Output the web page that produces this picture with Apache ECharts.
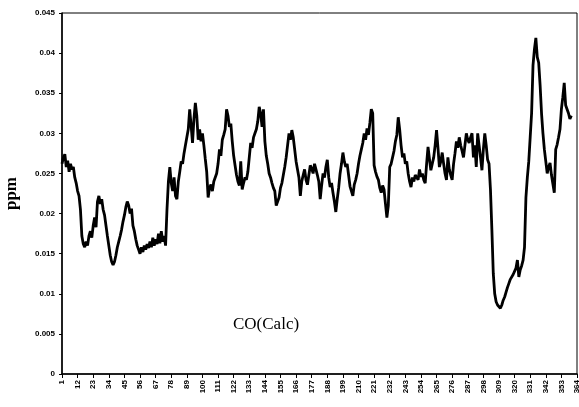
<!DOCTYPE html>
<html>
<head>
<meta charset="utf-8">
<script src="https://cdn.jsdelivr.net/npm/echarts@6/dist/echarts.min.js"></script>
<style>
  html, body { margin: 0; padding: 0; background: #fff; }
  #chart { width: 579px; height: 407px; }
</style>
</head>
<body>
<div id="chart"></div>
<script>
// Daily calculated CO concentration (ppm), split by quarter of the year
const q1 = [
  0.0262, 0.0270, 0.0274, 0.0258, 0.0266, 0.0252, 0.0262, 0.0255, 0.0258, 0.0245,
  0.0238, 0.0228, 0.0222, 0.0205, 0.0172, 0.0162, 0.0158, 0.0165, 0.0160, 0.0172,
  0.0178, 0.0170, 0.0185, 0.0195, 0.0183, 0.0215, 0.0222, 0.0212, 0.0218, 0.0205,
  0.0198, 0.0185, 0.0172, 0.0160, 0.0148, 0.0140, 0.0136, 0.0140, 0.0148, 0.0158,
  0.0165, 0.0172, 0.0180, 0.0190, 0.0198, 0.0208, 0.0215, 0.0210, 0.0200, 0.0206,
  0.0185, 0.0178, 0.0168, 0.0160, 0.0155, 0.0150, 0.0158, 0.0152, 0.0160, 0.0155,
  0.0162, 0.0157, 0.0165, 0.0158, 0.0170, 0.0160, 0.0168, 0.0162, 0.0175, 0.0163,
  0.0178, 0.0165, 0.0172, 0.0160, 0.0205, 0.0240, 0.0258, 0.0238, 0.0228, 0.0245,
  0.0222, 0.0218, 0.0240, 0.0252, 0.0265, 0.0262, 0.0275, 0.0285, 0.0295, 0.0305,
  0.0330
];
const q2 = [
  0.0310, 0.0288, 0.0318, 0.0338, 0.0322, 0.0292, 0.0305, 0.0290, 0.0300,
  0.0285, 0.0268, 0.0252, 0.0220, 0.0232, 0.0236, 0.0228, 0.0240, 0.0245, 0.0250,
  0.0262, 0.0280, 0.0272, 0.0292, 0.0298, 0.0305, 0.0330, 0.0322, 0.0308, 0.0312,
  0.0290, 0.0272, 0.0260, 0.0248, 0.0240, 0.0235, 0.0265, 0.0230, 0.0238, 0.0245,
  0.0242, 0.0252, 0.0270, 0.0288, 0.0282, 0.0295, 0.0300, 0.0305, 0.0315, 0.0333,
  0.0325, 0.0308, 0.0330, 0.0290, 0.0272, 0.0262, 0.0250, 0.0245, 0.0238, 0.0232,
  0.0228, 0.0210, 0.0215, 0.0220, 0.0232, 0.0238, 0.0248, 0.0258, 0.0270, 0.0285,
  0.0300, 0.0292, 0.0304, 0.0295, 0.0280, 0.0265, 0.0255, 0.0245, 0.0222, 0.0240,
  0.0248, 0.0255, 0.0242, 0.0236, 0.0248, 0.0260, 0.0256, 0.0250, 0.0262, 0.0255,
  0.0248, 0.0240
];
const q3 = [
  0.0218, 0.0235, 0.0250, 0.0245, 0.0258, 0.0267, 0.0245, 0.0233, 0.0238, 0.0226,
  0.0215, 0.0202, 0.0218, 0.0232, 0.0250, 0.0262, 0.0276, 0.0265, 0.0258, 0.0262,
  0.0248, 0.0234, 0.0228, 0.0222, 0.0236, 0.0242, 0.0250, 0.0262, 0.0272, 0.0280,
  0.0288, 0.0300, 0.0292, 0.0306, 0.0298, 0.0313, 0.0330, 0.0325, 0.0260, 0.0252,
  0.0246, 0.0242, 0.0232, 0.0226, 0.0235, 0.0230, 0.0212, 0.0195, 0.0210, 0.0258,
  0.0262, 0.0270, 0.0278, 0.0290, 0.0298, 0.0320, 0.0305, 0.0285, 0.0270, 0.0275,
  0.0262, 0.0265, 0.0250, 0.0240, 0.0233, 0.0245, 0.0240, 0.0248, 0.0250, 0.0242,
  0.0255, 0.0246, 0.0250, 0.0242, 0.0238, 0.0262, 0.0283, 0.0268, 0.0254, 0.0262,
  0.0270, 0.0285, 0.0304, 0.0282, 0.0258, 0.0265, 0.0276, 0.0262, 0.0250, 0.0242,
  0.0270
];
const q4 = [
  0.0255, 0.0248, 0.0242, 0.0262, 0.0275, 0.0290, 0.0282, 0.0295, 0.0285, 0.0278,
  0.0270, 0.0285, 0.0300, 0.0292, 0.0288, 0.0295, 0.0300, 0.0270, 0.0285, 0.0258,
  0.0300, 0.0285, 0.0270, 0.0254, 0.0280, 0.0300, 0.0285, 0.0267, 0.0262, 0.0230,
  0.0180, 0.0125, 0.0100, 0.0090, 0.0086, 0.0084, 0.0082, 0.0086, 0.0092, 0.0096,
  0.0102, 0.0108, 0.0113, 0.0118, 0.0120, 0.0124, 0.0126, 0.0132, 0.0142, 0.0121,
  0.0130, 0.0135, 0.0142, 0.0158, 0.0220, 0.0245, 0.0265, 0.0295, 0.0325, 0.0385,
  0.0405, 0.0419, 0.0395, 0.0388, 0.0360, 0.0325, 0.0300, 0.0280, 0.0265, 0.0250,
  0.0258, 0.0263, 0.0248, 0.0250, 0.0226, 0.0280, 0.0286, 0.0295, 0.0305, 0.0330,
  0.0345, 0.0363, 0.0335, 0.0330, 0.0325, 0.0318, 0.0322
];
const coCalc = q1.concat(q2, q3, q4);

// Day-of-year categories 1..364 (labels shown every 11 days)
const dayCount = 364;
const days = [];
for (let d = 1; d <= dayCount; d++) days.push(String(d));

const yTicks = { min: 0, max: 0.045, step: 0.005 };
const titleText = 'CO(Calc)';
const yName = 'ppm';

const chart = echarts.init(document.getElementById('chart'), null, { renderer: 'canvas' });
chart.setOption({
  backgroundColor: '#ffffff',
  animation: false,
  grid: {
    left: 62, right: 2, top: 13, bottom: 33,
    containLabel: false,
    outerBoundsMode: 'none',
    show: true, borderColor: '#000', borderWidth: 1, backgroundColor: 'transparent'
  },
  graphic: [{
    type: 'text',
    left: 233, top: 316,
    style: {
      text: titleText,
      font: '17px "Liberation Serif", "Times New Roman", serif',
      fill: '#000'
    }
  }],
  xAxis: {
    type: 'category',
    data: days,
    boundaryGap: false,
    axisLine: { lineStyle: { color: '#000', width: 1.5 } },
    axisTick: { interval: 10, length: 4, lineStyle: { color: '#000', width: 1 } },
    axisLabel: {
      interval: 10, rotate: 90, margin: 6, showMaxLabel: true,
      fontSize: 8, fontWeight: 'bold', color: '#000',
      fontFamily: '"Liberation Sans", Arial, sans-serif'
    },
    splitLine: { show: false }
  },
  yAxis: {
    type: 'value',
    min: yTicks.min, max: yTicks.max, interval: yTicks.step,
    name: yName,
    nameLocation: 'middle',
    nameRotate: 90,
    nameGap: 42,
    nameTextStyle: {
      fontSize: 17, fontWeight: 'bold', color: '#000',
      fontFamily: '"Liberation Serif", "Times New Roman", serif'
    },
    axisLine: { show: true, lineStyle: { color: '#000', width: 1.5 } },
    axisTick: { show: true, length: 3, lineStyle: { color: '#000' } },
    axisLabel: {
      margin: 7, fontSize: 8, fontWeight: 'bold', color: '#000',
      fontFamily: '"Liberation Sans", Arial, sans-serif'
    },
    splitLine: { show: false }
  },
  series: [{
    type: 'line',
    data: coCalc,
    showSymbol: false,
    symbol: 'none',
    lineStyle: { color: '#000', width: 2.8 },
    z: 3
  }]
});
</script>
</body>
</html>
